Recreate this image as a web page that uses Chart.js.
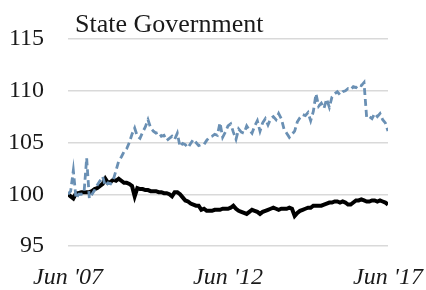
<!DOCTYPE html>
<html>
<head>
<meta charset="utf-8">
<script src="https://cdn.jsdelivr.net/npm/chart.js@4/dist/chart.umd.min.js"></script>
<style>
  html, body { margin: 0; padding: 0; background: #ffffff; }
  #wrap { width: 426px; height: 290px; }
</style>
</head>
<body>
<div id="wrap"><canvas id="c" width="426" height="290"></canvas></div>
<script>
// Monthly index values, Jun 2007 (month 0) to Jun 2017 (month 120)
const title = "State Government";
const xTickLabels = ["Jun '07", "Jun '12", "Jun '17"];
const yTicks = [95, 100, 105, 110, 115];

const seriesDashed = [
  100.0, 100.3, 102.3, 99.6, 100.0, 100.0, 100.1, 103.5, 99.6, 100.0,
  100.4, 100.9, 101.3, 101.7, 100.8, 101.1, 101.0, 101.4, 102.3, 103.2,
  103.6, 104.1, 104.4, 105.0, 105.8, 106.4, 105.6, 105.4, 106.0, 106.5,
  107.2, 106.4, 106.1, 105.9, 106.0, 105.6, 105.7, 105.2, 105.4, 105.6,
  105.3, 105.9, 104.6, 104.9, 104.8, 104.5, 104.9, 105.3, 105.0, 104.7,
  104.8, 104.8, 105.2, 105.5, 105.6, 105.8, 105.7, 106.9, 105.5, 106.0,
  106.6, 106.8, 106.0, 105.3, 106.3, 106.0, 105.9, 106.6, 106.2, 105.9,
  106.6, 107.1, 106.1, 106.9, 107.3, 106.7, 107.3, 107.5, 107.2, 107.8,
  107.3, 106.3, 105.9, 105.5, 105.8, 106.1, 107.0, 107.4, 107.7, 107.6,
  107.9, 107.1, 108.0, 109.7, 108.5, 108.8, 108.3, 109.2, 108.4, 109.4,
  109.7, 109.9, 109.6, 109.9, 110.0, 110.2, 110.1, 110.4, 110.3, 110.6,
  110.5, 110.8, 107.4, 107.5, 107.3, 107.8, 107.5, 107.8, 107.2, 106.9,
  106.1
];

const seriesSolid = [
  100.0, 99.8, 99.6, 100.1, 100.1, 100.2, 100.2, 100.2, 100.2, 100.3,
  100.5, 100.6, 100.8, 101.0, 101.5, 101.1, 101.2, 101.4, 101.3, 101.5,
  101.3, 101.1, 101.1, 101.0, 100.8, 99.8, 100.6, 100.5, 100.5, 100.4,
  100.4, 100.3, 100.3, 100.3, 100.2, 100.2, 100.1, 100.1, 100.0, 99.8,
  100.2, 100.2, 100.0, 99.7, 99.4, 99.3, 99.1, 99.0, 98.9, 98.9,
  98.5, 98.6, 98.4, 98.4, 98.4, 98.5, 98.5, 98.5, 98.6, 98.6,
  98.6, 98.7, 98.9, 98.6, 98.4, 98.3, 98.2, 98.1, 98.3, 98.5,
  98.4, 98.3, 98.1, 98.3, 98.4, 98.5, 98.6, 98.7, 98.6, 98.5,
  98.6, 98.6, 98.6, 98.7, 98.6, 97.9, 98.2, 98.4, 98.5, 98.6,
  98.7, 98.7, 98.9, 98.9, 98.9, 98.9, 99.0, 99.1, 99.2, 99.2,
  99.3, 99.3, 99.2, 99.3, 99.2, 99.0, 99.0, 99.2, 99.4, 99.4,
  99.5, 99.4, 99.3, 99.3, 99.4, 99.4, 99.3, 99.4, 99.3, 99.2,
  99.0
];

const FONT = "'Liberation Serif', 'Times New Roman', serif";
const TEXT = '#1a1a1a';

const toPoints = arr => arr.map((v, i) => ({ x: i, y: v }));

const titlePlugin = {
  id: 'cornerTitle',
  afterDraw(chart) {
    const { ctx, chartArea } = chart;
    ctx.save();
    ctx.font = '26px ' + FONT;
    ctx.fillStyle = TEXT;
    ctx.textAlign = 'left';
    ctx.textBaseline = 'alphabetic';
    ctx.fillText(title, chartArea.left + 7, 32);
    ctx.restore();
  }
};

new Chart(document.getElementById('c'), {
  type: 'line',
  data: {
    datasets: [
      {
        label: 'Dashed',
        data: toPoints(seriesDashed),
        borderColor: '#6a90b4',
        borderWidth: 2.8,
        borderDash: [7, 4],
        pointRadius: 0,
        tension: 0,
        fill: false
      },
      {
        label: 'Solid',
        data: toPoints(seriesSolid),
        borderColor: '#000000',
        borderWidth: 4,
        pointRadius: 0,
        tension: 0,
        fill: false
      }
    ]
  },
  options: {
    responsive: false,
    animation: false,
    devicePixelRatio: 1,
    layout: { padding: { top: 39, left: 8, right: 38, bottom: 0 } },
    plugins: {
      legend: { display: false },
      tooltip: { enabled: false },
      title: { display: false }
    },
    scales: {
      x: {
        type: 'linear',
        min: 0,
        max: 120,
        offset: false,
        grid: { display: false, drawTicks: false },
        border: { display: false },
        afterBuildTicks: axis => { axis.ticks = [0, 60, 120].map(v => ({ value: v })); },
        afterFit: axis => { axis.paddingLeft = 0; axis.paddingRight = 0; axis.height = 44; },
        ticks: {
          autoSkip: false,
          maxRotation: 0,
          padding: 20,
          color: TEXT,
          font: { family: FONT, size: 24, style: 'italic', lineHeight: 1 },
          callback: (v) => xTickLabels[Math.round(v / 60)]
        }
      },
      y: {
        min: 95,
        max: 115,
        afterBuildTicks: axis => { axis.ticks = yTicks.map(v => ({ value: v })); },
        afterFit: axis => { axis.width = 60; axis.paddingTop = 0; axis.paddingBottom = 0; },
        grid: { color: '#d9d9d9', lineWidth: 1.5, drawTicks: false },
        border: { display: false },
        ticks: {
          padding: 24,
          color: TEXT,
          font: { family: FONT, size: 24 }
        }
      }
    }
  },
  plugins: [titlePlugin]
});
</script>
</body>
</html>
